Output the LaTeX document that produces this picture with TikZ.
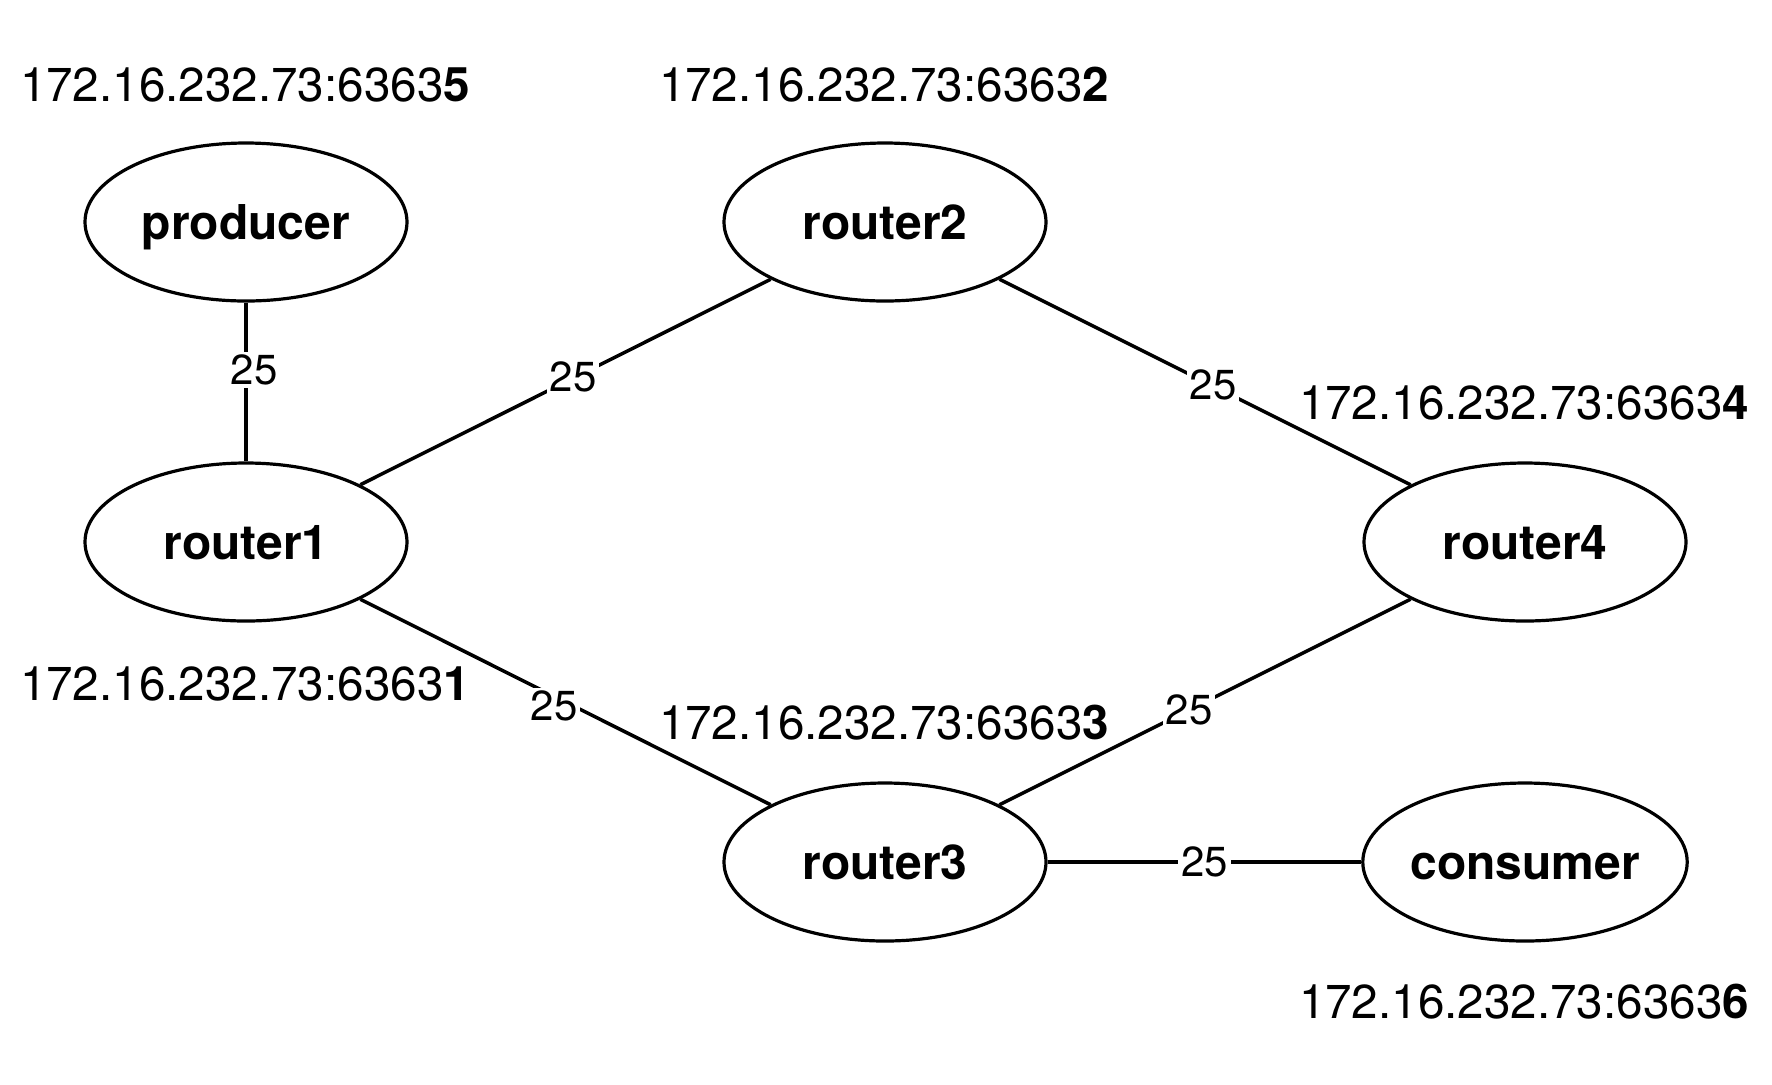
\documentclass[tikz,border=0pt]{standalone}
\usepackage{fontspec}
\setmainfont{TeX Gyre Heros}
\usetikzlibrary{shapes.geometric}
\begin{document}
\begin{tikzpicture}[x=0.5pt,y=-0.5pt,
  host/.style={ellipse,draw,line width=1.6pt,minimum width=161pt,minimum height=79pt,
    inner sep=0pt,text height=17pt,text depth=0pt,
    font=\fontsize{24}{28}\selectfont\bfseries},
  addr/.style={inner sep=0pt,font=\fontsize{23.8}{28}\selectfont},
  link/.style={line width=1.75pt},
  cost/.style={fill=white,inner sep=1.5pt,font=\fontsize{21}{24}\selectfont}]
\useasboundingbox (0,0) rectangle (1772,1084);
% hosts
\node[host] (producer) at (246,222) {producer};
\node[host] (router2)  at (885,222) {router2};
\node[host] (router1)  at (246,542) {router1};
\node[host] (router4)  at (1525,542) {router4};
\node[host] (router3)  at (885,862) {router3};
\node[host] (consumer) at (1525,862) {consumer};
% addresses
\node[addr] (a5) at (245,85)   {172.16.232.73:6363\textbf{5}};
\node[addr] (a2) at (884,85)   {172.16.232.73:6363\textbf{2}};
\node[addr] (a4) at (1524,403) {172.16.232.73:6363\textbf{4}};
\node[addr] (a1) at (245,684)  {172.16.232.73:6363\textbf{1}};
\node[addr] (a3) at (884,723)  {172.16.232.73:6363\textbf{3}};
\node[addr] (a6) at (1524,1002) {172.16.232.73:6363\textbf{6}};
% links with costs
\draw[link] (producer) -- node[cost,xshift=4pt,yshift=6pt] {25} (router1);
\draw[link] (router1) -- node[cost,xshift=3.75pt,yshift=2.75pt] {25} (router2);
\draw[link] (router2) -- node[cost,xshift=4pt,yshift=-1.25pt] {25} (router4);
\draw[link] (router1) -- node[cost,xshift=-5.75pt,yshift=-2pt] {25} (router3);
\draw[link] (router3) -- node[cost,xshift=-8pt,yshift=-4pt] {25} (router4);
\draw[link] (router3) -- node[cost] {25} (consumer);
\end{tikzpicture}
\end{document}
